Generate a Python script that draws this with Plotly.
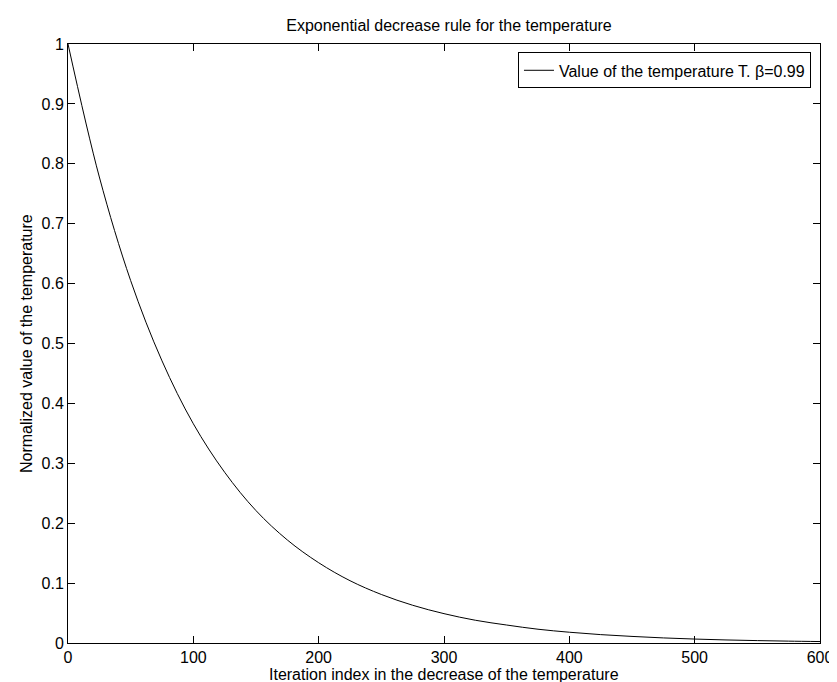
import plotly.graph_objects as go

iterations = [0, 25, 50, 75, 100, 125, 150, 175, 200, 225, 250, 275, 300,
              325, 350, 375, 400, 425, 450, 475, 500, 525, 550, 575, 600]
temperature = [1.0, 0.778, 0.605, 0.471, 0.366, 0.285, 0.221, 0.172, 0.134,
               0.104, 0.081, 0.063, 0.049, 0.038, 0.030, 0.023, 0.018, 0.014,
               0.011, 0.0085, 0.0066, 0.0051, 0.0040, 0.0031, 0.0024]
x_ticks = [0, 100, 200, 300, 400, 500, 600]
y_ticks = [0, 0.1, 0.2, 0.3, 0.4, 0.5, 0.6, 0.7, 0.8, 0.9, 1]
y_tick_text = ["0", "0.1", "0.2", "0.3", "0.4", "0.5", "0.6", "0.7", "0.8", "0.9", "1"]

FONT = "Liberation Sans, Arial, Helvetica, sans-serif"

fig = go.Figure()
fig.add_trace(go.Scatter(
    x=iterations, y=temperature, mode="lines",
    line=dict(color="black", width=1, shape="spline", smoothing=1.0),
    name="Value of the temperature T. \u03b2=0.99",
))

axis_common = dict(
    showline=True, linecolor="black", linewidth=1, mirror="ticks",
    ticks="inside", ticklen=7, tickwidth=1, tickcolor="black",
    showgrid=False, zeroline=False,
    tickfont=dict(family=FONT, size=16, color="black"),
)

fig.update_layout(
    width=837, height=682,
    margin=dict(l=60, r=15, t=36, b=47),
    paper_bgcolor="white", plot_bgcolor="white",
    font=dict(family=FONT, size=16, color="black"),
    title=dict(text="Exponential decrease rule for the temperature",
               x=(60 + 822) / 2 / 837, xanchor="center",
               y=1 - 17 / 682, yanchor="middle",
               font=dict(family=FONT, size=16, color="black")),
    showlegend=True,
    legend=dict(x=0.988, y=0.986, xanchor="right", yanchor="top",
                bgcolor="white", bordercolor="black", borderwidth=1,
                font=dict(family=FONT, size=16, color="black"),
                itemwidth=30),
    xaxis=dict(range=[0, 600], tickvals=x_ticks, **axis_common),
    yaxis=dict(range=[0, 1], tickvals=y_ticks, ticktext=y_tick_text, **axis_common),
    annotations=[
        dict(text="Iteration index in the decrease of the temperature",
             xref="paper", yref="paper", x=0.5, y=(635 - 666) / 599,
             xanchor="center", yanchor="middle", showarrow=False,
             font=dict(family=FONT, size=16, color="black")),
        dict(text="Normalized value of the temperature",
             xref="paper", yref="paper", x=(18 - 60) / 762, y=0.5,
             xanchor="center", yanchor="middle", textangle=-90, showarrow=False,
             font=dict(family=FONT, size=16, color="black")),
    ],
)

fig.write_html("out.html")
